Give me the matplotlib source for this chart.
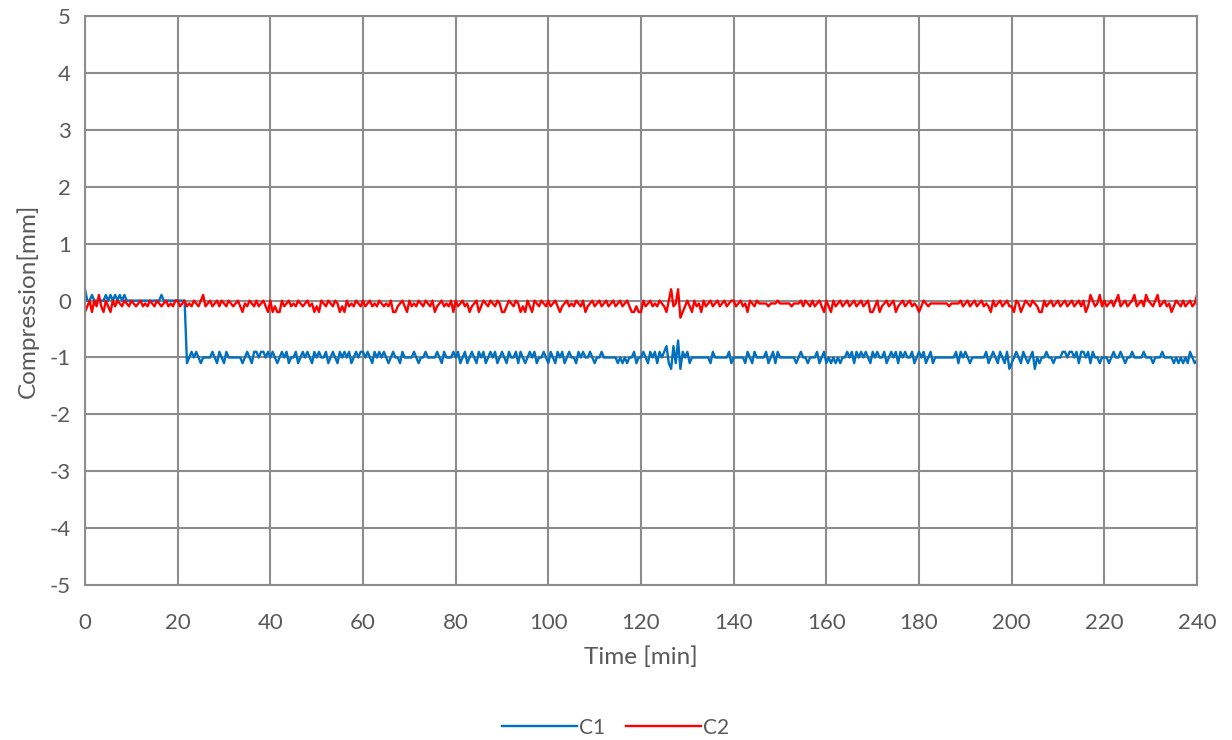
import numpy as np
import matplotlib.pyplot as plt

# compression readings, one character every 0.5 min (t = 0 ... 240 min)
# each character is a level in 0.05 mm steps, see LEVELS below
LEVELS = "ABCDEFGHIJKLMNOPQRSTUVWXYZabcd"   # 'A' = -1.25 ... 'Z' = 0.0 ... 'd' = 0.2
STEP_MIN = 0.5

c1_codes = [
    "dZZbZZZZZbZbZbZbZbZZZZZZZZZZZZZZZbZZZZZZ",
    "ZZZZDFHFHFDFFFFHFDHFDHFFFFFFDFHFDHHFHHFH",
    "FHFDFHFHDFFHDFHFHFDHFHFFHDFHFDHFHFHDFHFH",
    "HFHFDHFHFHFDFHFFDHFFFFHFDFFHFFFFHFDHFFFH",
    "FHDFHDFHFDHFHDFHFHDFHFDHFFHDHFDFHFHDFFHF",
    "DHFDHFHDFHFFDHFHFFHFDFFHFFFFFFDFDFDFFHDF",
    "FHFDHFHDHFHJDBJDLBHFHDFFFFFFFFDHFFFFFFHD",
    "FFFFFDHFDHFFFFHDFHDHFFFFFFFDFHFFDFFFHDFH",
    "DFDFDFDFFHFHDHFHFHFDHFHFFHDFHFHDHFHFFHDF",
    "HFHDFHDFFFFFFFFFHDHFHFDFFFFFFHDFHFDHFDHB",
    "DFHFDHFDFHBFDFFHFFDFFFHHFHHFHDHHFHDHFFDF",
    "FFDFHFFHFDFFHFFFFHFFFDFFFHFFFFDFDFDFDHFD",
    "E",
]

c2_codes = [
    "VXZVZXbXVZXVZXZYXZYXZYXYZXYXZYXZYXYZXYXZ",
    "ZXYZXYXZYXZbXYZXYZXZYXZYXYZXVYXZYXZXYZXV",
    "ZVXVVZXYZXYXZYXYZXYVXVZYXZYXZYVXVZXYXZYX",
    "ZXYZXYXZYXYXZVVXYZXVZXYXZYXZYXZVXYZXYXZV",
    "ZXYZXYVXYZVXZYXZYXZYVVXZYXZYVXVZXVZYXZYX",
    "ZXYZXVXYZXYXZYXZVXYZXYZXYZXYZXYZXYZXVVXV",
    "VZXYZXYXZYXVZdXYdTVXZXVZXYVZXYZXYZXYZXYZ",
    "ZXYZXYVZYXZYYYYXYYYZYYYYYXYYYZXZYXZXYZXV",
    "ZXVZXYZXYZXYZXYZXYZVVXZVXYZXYZVXYZXYZXYX",
    "VXZYXYYYYYYYYXYYYYZXYZXYZXYZXYXVZXYZXYZX",
    "XVZYVXZYXZYXVVZXYZXYZXYZXYZXYZXZVXbZXYbX",
    "ZXYZXZbXYZXYZbXYZXbZYXZbXYZXYVXZYXZXYZXY",
    "b",
]

series_names = ["C1", "C2"]
series_colors = ["#0070C0", "#FF0000"]

x_ticks = np.arange(0, 241, 20)
y_ticks = np.arange(-5, 6, 1)


def decode(lines):
    s = "".join(lines)
    vals = np.array([-1.25 + 0.05 * LEVELS.index(ch) for ch in s])
    t = np.arange(len(vals)) * STEP_MIN
    return t, vals


text_color = "#595959"
grid_color = "#8C8C8C"
plt.rcParams["font.family"] = ["Lato", "DejaVu Sans"]
plt.rcParams["axes.unicode_minus"] = False

fig = plt.figure(figsize=(12.32, 7.40), dpi=100)
ax = fig.add_axes([0.069, 0.2095, 0.9026, 0.7685])

for codes, name, color in zip([c1_codes, c2_codes], series_names, series_colors):
    t, v = decode(codes)
    ax.plot(t, v, color=color, linewidth=1.7, label=name, solid_joinstyle="round")

ax.set_xlim(0, 240)
ax.set_ylim(-5, 5)
ax.set_xticks(x_ticks)
ax.set_yticks(y_ticks)
ax.grid(True, color=grid_color, linewidth=1.5)
ax.set_axisbelow(True)
for sp in ax.spines.values():
    sp.set_color(grid_color)
    sp.set_linewidth(1.5)
ax.tick_params(length=0, labelsize=16, colors=text_color, pad=10)
ax.tick_params(axis="x", pad=20)
ax.set_xlabel("Time [min]", fontsize=17.5, color=text_color, labelpad=10)
ax.set_ylabel("Compression[mm]", fontsize=17.5, color=text_color, labelpad=8)

fig.legend(loc="lower center", bbox_to_anchor=(0.5, -0.022), ncol=2, frameon=False,
           fontsize=15, labelcolor=text_color, handlelength=3.6, handletextpad=0.1,
           columnspacing=1.0)

fig.savefig("out.png", dpi=100)
